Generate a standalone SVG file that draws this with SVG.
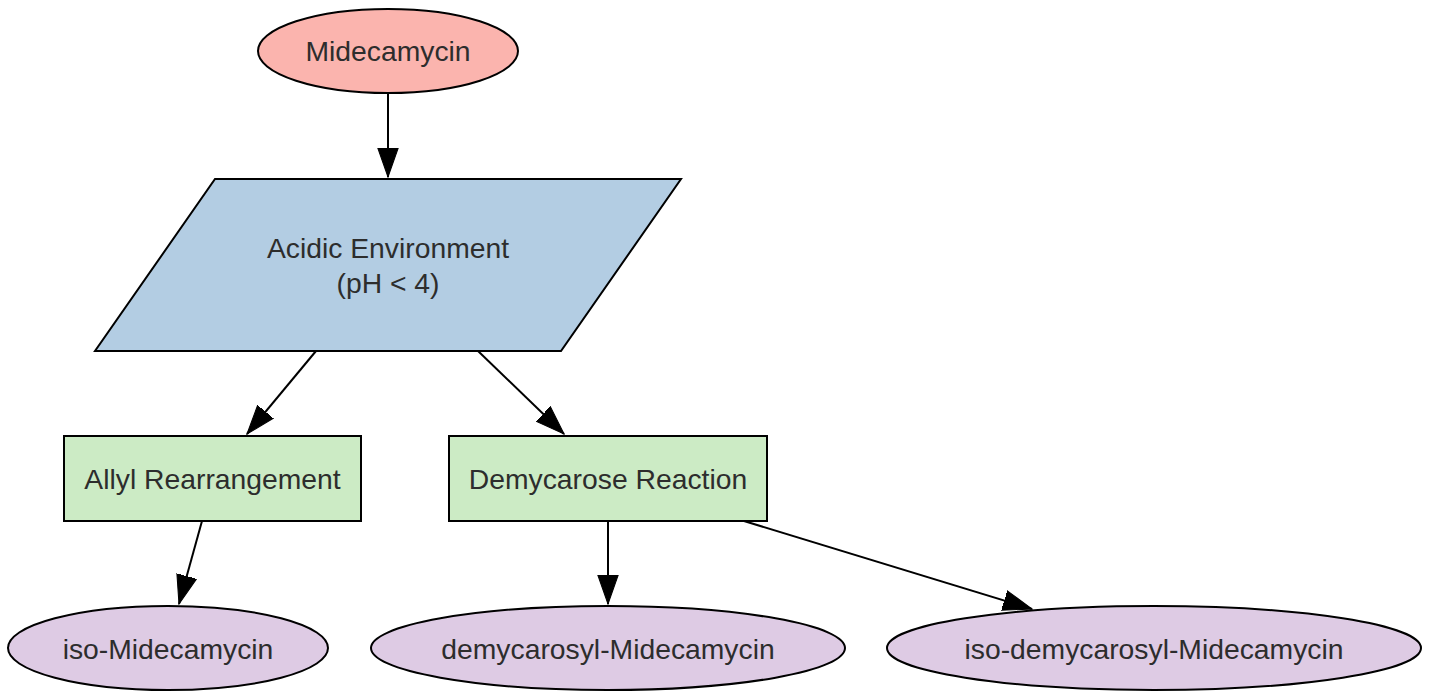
<svg xmlns="http://www.w3.org/2000/svg" width="1430" height="691" viewBox="0 0 1430 691">
<defs>
<style>
.n{stroke:#000;stroke-width:2}
.t{font-family:"Liberation Sans",Arial,sans-serif;font-size:28.3px;fill:#2d2d2d;text-anchor:middle}
.e{stroke:#000;stroke-width:2;fill:none}
</style>
<marker id="ah" markerUnits="userSpaceOnUse" markerWidth="30" markerHeight="22" viewBox="0 0 28 20" refX="27" refY="10" orient="auto">
<path d="M0,0.5 L27,10 L0,19.5 Z" fill="#000" stroke="#000" stroke-width="1"/>
</marker>
</defs>
<rect width="1430" height="691" fill="#fff"/>
<g id="connectors">
<line class="e" x1="388" y1="93" x2="388" y2="177" marker-end="url(#ah)"/>
<line class="e" x1="316" y1="351" x2="247" y2="434" marker-end="url(#ah)"/>
<line class="e" x1="478" y1="351" x2="564" y2="434" marker-end="url(#ah)"/>
<line class="e" x1="202" y1="521" x2="179" y2="604" marker-end="url(#ah)"/>
<line class="e" x1="608" y1="521" x2="608" y2="604" marker-end="url(#ah)"/>
<line class="e" x1="744" y1="521" x2="1032" y2="609" marker-end="url(#ah)"/>
</g>
<g id="midecamycin">
<ellipse class="n" cx="388" cy="51" rx="130" ry="42" fill="#fbb4ae"/>
<text class="t" x="388" y="61">Midecamycin</text>
</g>
<g id="acidic">
<polygon class="n" points="215,179 681,179 561,351 95,351" fill="#b3cde3"/>
<text class="t" x="388" y="258">Acidic Environment</text>
<text class="t" x="388" y="293">(pH &lt; 4)</text>
</g>
<g id="allyl">
<rect class="n" x="64" y="436" width="297" height="85" fill="#ccebc5"/>
<text class="t" x="212.5" y="489">Allyl Rearrangement</text>
</g>
<g id="demycarose">
<rect class="n" x="449" y="436" width="318" height="85" fill="#ccebc5"/>
<text class="t" x="608" y="489">Demycarose Reaction</text>
</g>
<g id="iso-midecamycin">
<ellipse class="n" cx="168" cy="648" rx="160" ry="42" fill="#decbe4"/>
<text class="t" x="168" y="659">iso-Midecamycin</text>
</g>
<g id="demycarosyl">
<ellipse class="n" cx="608" cy="648" rx="237" ry="42" fill="#decbe4"/>
<text class="t" x="608" y="659">demycarosyl-Midecamycin</text>
</g>
<g id="iso-demycarosyl">
<ellipse class="n" cx="1154" cy="648" rx="267" ry="42" fill="#decbe4"/>
<text class="t" x="1154" y="659">iso-demycarosyl-Midecamycin</text>
</g>
</svg>
